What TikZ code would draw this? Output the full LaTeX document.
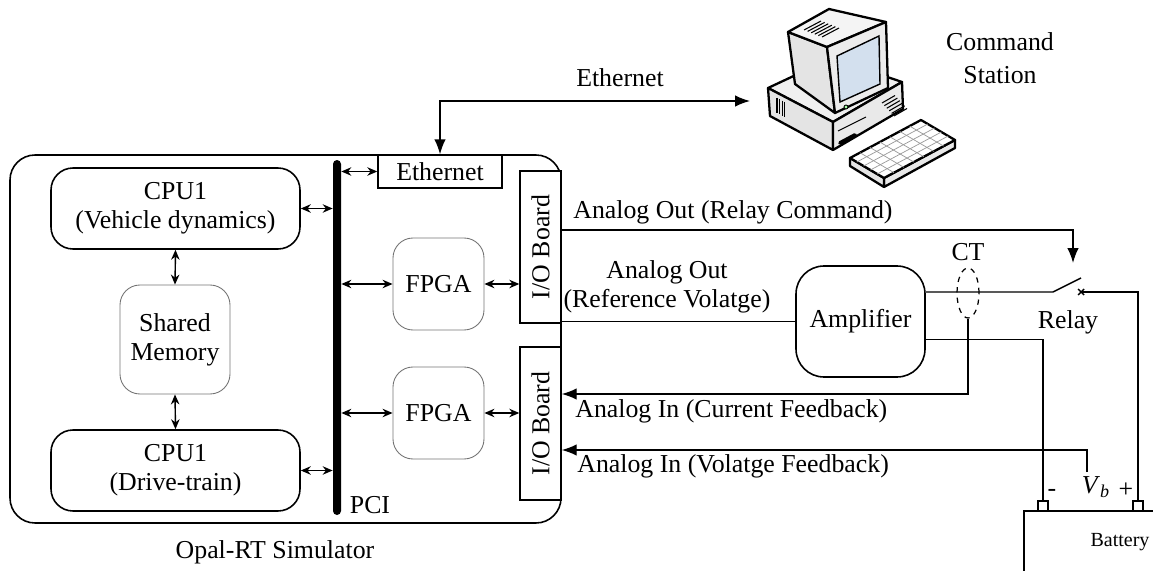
\documentclass[tikz,border=0pt]{standalone}
\usepackage{fontspec}
\usepackage{graphicx}
\setmainfont{Liberation Serif}
\usetikzlibrary{arrows.meta,fit,calc,shapes.geometric}
\definecolor{screenblue}{HTML}{D3E0EE}
\definecolor{casegray}{HTML}{E4E4E4}

\begin{document}
\begin{tikzpicture}[
    x=0.02cm,y=-0.02cm,>=Latex,
    every node/.style={inner sep=0pt,font=\fontsize{14.7}{16.5}\selectfont},
    every label/.style={align=center},
    smalltip/.tip={Stealth[length=2mm,width=1.7mm]},
    bigtip/.tip={Latex[length=3mm,width=2.3mm]},
    block/.style={draw,rounded corners=0.44cm,line width=0.9pt},
    softblock/.style={draw=black!55,rounded corners=0.4cm,line width=0.5pt},
    board/.style={draw,line width=0.8pt,fill=white},
    link/.style={smalltip-smalltip,line width=0.8pt},
    signal/.style={-bigtip,line width=0.8pt},
    wire/.style={line width=0.8pt},
    casing/.style={draw=black,line width=1.3pt,line join=round},
    vent/.style={line width=0.6pt}
  ]
    \useasboundingbox (0,0) rectangle (1153,571);
    \clip (0,0) rectangle (1153,571);

    \node[block,rounded corners=0.5cm,fit={(10,155) (561,523)}] (sim) {};
    \node (simlbl) at (275,552) {Opal-RT Simulator};

    \node[block,fit={(51,168) (300,249)},label={center:CPU1\\(Vehicle dynamics)}] (cpuveh) {};
    \node[softblock,fit={(120,285) (230,394)},label={center:Shared\\Memory}] (mem) {};
    \node[block,fit={(51,430) (300,511)},label={center:CPU1\\(Drive-train)}] (cpudrv) {};

    \node[fill=black,rounded corners=0.08cm,fit={(333,160) (341,515)}] (pci) {};
    \node (pcilbl) at (370,505) {PCI};

    \node[board,fit={(378,155) (502,188)},label={center:Ethernet}] (eth) {};
    \node[softblock,fit={(393,238) (484,330)},label={center:FPGA}] (fpgaa) {};
    \node[softblock,fit={(393,367) (484,459)},label={center:FPGA}] (fpgab) {};
    \node[board,fit={(520,171) (561,323)},label={center:\rotatebox{90}{I/O Board}}] (ioa) {};
    \node[board,fit={(520,347) (561,500)},label={center:\rotatebox{90}{I/O Board}}] (iob) {};

    \draw[link] (cpuveh.east) -- (cpuveh.east -| pci.west);
    \draw[link] (cpudrv.east) -- (cpudrv.east -| pci.west);
    \draw[link] (cpuveh.south) -- (mem.north);
    \draw[link] (mem.south) -- (cpudrv.north);
    \draw[link] (pci.east |- eth.west) -- (eth.west);
    \draw[link] (pci.east |- fpgaa.west) -- (fpgaa.west);
    \draw[link] (pci.east |- fpgab.west) -- (fpgab.west);
    \draw[link] (fpgaa.east) -- (fpgaa.east -| ioa.west);
    \draw[link] (fpgab.east) -- (fpgab.east -| iob.west);

    % command station
    \filldraw[casing,fill=casegray!60] (768,88) -- (832,58) -- (902,82) -- (833,122) -- cycle;
    \filldraw[casing,fill=casegray] (768,88) -- (833,122) -- (833,150) -- (770,116) -- cycle;
    \filldraw[casing,fill=casegray!80] (833,122) -- (902,82) -- (903,109) -- (833,150) -- cycle;
    \foreach \i in {0,...,3}
      \draw[vent] (777+2.6*\i,98+1.3*\i) -- ++(0,15);
    \foreach \i in {0,...,5}
      \draw[vent] (882+2.4*\i,103+2.6*\i) -- ++(13,-7.5);
    \draw[vent] (838,131) -- (866,117);
    \draw[line width=2.2pt,line cap=round] (840,143) -- (855,135);
    \filldraw[casing,fill=casegray] (788,32) -- (827,47) -- (835,113) -- (795,84) -- cycle;
    \filldraw[casing,fill=casegray!40] (788,32) -- (829,9) -- (886,22) -- (827,47) -- cycle;
    \foreach \i in {0,...,5}
      \draw[vent] (804+3.6*\i,30+1.4*\i) -- ++(17,-9);
    \filldraw[casing,fill=casegray!70] (827,47) -- (886,22) -- (888,88) -- (835,113) -- cycle;
    \filldraw[draw=black,line width=0.8pt,fill=screenblue] (837,56) -- (879,36) -- (880,84) -- (840,102) -- cycle;
    \filldraw[draw=black,line width=0.5pt,fill=green!35] (846,107) circle (2);
    \coordinate (ka) at (850,158);
    \coordinate (kb) at (921,120);
    \coordinate (kc) at (955,140);
    \coordinate (kd) at (884,178);
    \filldraw[casing,fill=casegray!80] (kd) -- (kc) -- (955,148) -- (884,187) -- cycle;
    \filldraw[casing,fill=casegray] (ka) -- (kd) -- (884,187) -- (850,166) -- cycle;
    \filldraw[casing,fill=white] (ka) -- (kb) -- (kc) -- (kd) -- cycle;
    \foreach \t in {0.14,0.28,...,0.9}
      \draw[black!40,line width=0.4pt] ($(ka)!\t!(kb)$) -- ($(kd)!\t!(kc)$);
    \foreach \s in {0.2,0.4,0.6,0.8}
      \draw[black!40,line width=0.4pt] ($(ka)!\s!(kd)$) -- ($(kb)!\s!(kc)$);
    \node[align=center] (pclbl) at (1000,58) {Command\\[2pt]Station};

    \coordinate (pcport) at (750,101);
    \draw[bigtip-bigtip,line width=0.8pt] (eth.north) |- (pcport);
    \node (ethlbl) at (620,78) {Ethernet};

    % plant side
    \node[block,rounded corners=0.56cm,fit={(796,266) (925,377)},label={center:Amplifier}] (amp) {};
    \node[draw,dashed,ellipse,line width=0.7pt,minimum width=0.44cm,minimum height=1cm] (ct) at (968,293) {};
    \node (ctlbl) at (968,252) {CT};
    \node[draw,wire,fit={(1024,511) (1190,600)}] (bat) {};
    \node[font=\fontsize{11.4}{13}\selectfont] (battxt) at (1120,542) {Battery};
    \node[draw,wire,fill=white,minimum size=0.2cm] (bneg) at (1043,506) {};
    \node[draw,wire,fill=white,minimum size=0.2cm] (bpos) at (1138,506) {};
    \node (neglbl) at (1052,493) {-};
    \node (poslbl) at (1126,490) {+};
    \node (vblbl) at (1096,487) {\textit{V}\textsubscript{\textit{b}}};

    \coordinate (swl) at (1053,292);
    \coordinate (swr) at (1081,292);
    \coordinate (swtip) at (1073,263);
    \node (relaytxt) at (1068,322) {Relay};

    \coordinate (cmdrow) at (0,230);
    \draw[signal] (ioa.east |- cmdrow) -| (swtip);
    \node[anchor=west] (cmdlbl) at (573,212) {Analog Out (Relay Command)};

    \draw[wire] (ioa.east |- amp.west) -- (amp.west);
    \node[align=center] (reflbl) at (667,287) {Analog Out\\(Reference Volatge)};

    \draw[wire] (amp.east |- swl) -- (swl) -- ++(28,-14);
    \draw[wire] (swr) ++(-3,-3) -- ++(6,6) (swr) ++(-3,3) -- ++(6,-6);
    \draw[wire] (swr) -| (bpos.north);
    \draw[wire] (amp.east) ++(0,18) -| (bneg.north);

    \coordinate (ifbrow) at (0,394);
    \draw[signal] (ct.south) |- (iob.east |- ifbrow);
    \node[anchor=west] (ifblbl) at (575,411) {Analog In (Current Feedback)};

    \coordinate (vbtap) at (1087,472);
    \coordinate (vfbrow) at (0,450);
    \draw[signal] (vbtap) |- (iob.east |- vfbrow);
    \node[anchor=west] (vfblbl) at (577,466) {Analog In (Volatge Feedback)};
\end{tikzpicture}
\end{document}
